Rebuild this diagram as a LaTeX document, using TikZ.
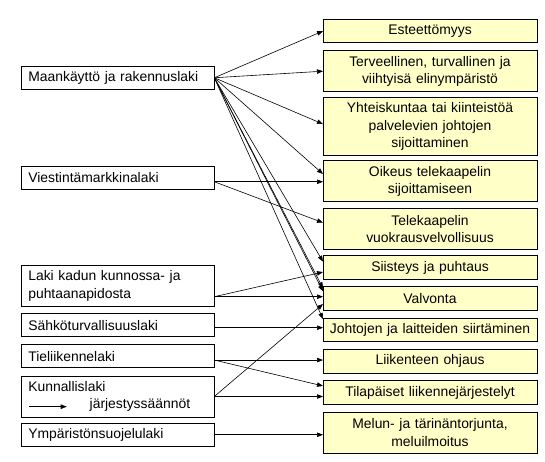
\documentclass[tikz,border=0pt]{standalone}
\usepackage{fontspec}
\setmainfont{Liberation Sans}
\usepackage{tikz}
\usetikzlibrary{positioning, arrows.meta, calc}
\definecolor{topicyellow}{RGB}{255,255,200}
\tikzset{
      law box/.style={
		draw=black,
		line width=0.8pt,
		outer sep=0pt,
		text width=179pt,
		inner xsep=7pt,
		align=left,
		minimum height={#1*17.5pt+6pt}, % one line is 23.5pt high
		font=\fontsize{13.9}{17.5}\selectfont,
	  },
	  law box/.default=1,
      topic box/.style={
		draw=black,
		fill=topicyellow,
		line width=0.8pt,
		outer sep=0pt,
		text width=208pt,
		inner xsep=3pt,
		align=center,
		minimum height={#1*17.5pt+6pt},
		font=\fontsize{13.9}{17.5}\selectfont,
	  },
	  topic box/.default=1,
  		link/.style={
    	-{Triangle[length=6pt,width=4.5pt]},
    	line width=0.6pt,
      }
  	}
\begin{document}
\begin{tikzpicture}[x=1pt, y=-1pt]
    \useasboundingbox (0,0) rectangle (545,462);
    % topics on the right
    \node [topic box] (este) at (430,31.05) {Esteettömyys};
    \node [topic box=2, below=7.9pt of este] (terv) {Terveellinen, turvallinen ja\\viihtyisä elinympäristö};
    \node [topic box=3, below=5.6pt of terv] (yht) {Yhteiskuntaa tai kiinteistöä\\palvelevien johtojen\\sijoittaminen};
    \node [topic box=2, below=4.9pt of yht] (oik) {Oikeus telekaapelin\\sijoittamiseen};
    \node [topic box=2, below=6.8pt of oik] (tele) {Telekaapelin\\vuokrausvelvollisuus};
    \node [topic box, below=6.3pt of tele] (sii) {Siisteys ja puhtaus};
    \node [topic box, below=7.2pt of sii] (val) {Valvonta};
    \node [topic box, below=8.3pt of val] (joh) {Johtojen ja laitteiden siirtäminen};
    \node [topic box, below=7.7pt of joh] (lii) {Liikenteen ohjaus};
    \node [topic box, below=7.7pt of lii] (til) {Tilapäiset liikennejärjestelyt};
    \node [topic box=2, below=7.8pt of til] (mel) {Melun- ja tärinäntorjunta,\\meluilmoitus};
    % laws on the left
    \node [law box] (maa) at (117.8,77.75) {Maankäyttö ja rakennuslaki};
    \node [law box, below=76.5pt of maa] (vie) {Viestintämarkkinalaki};
    \node [law box=2, below=75.8pt of vie] (laki) {Laki kadun kunnossa- ja\\puhtaanapidosta};
    \node [law box, below=7pt of laki] (sah) {Sähköturvallisuuslaki};
    \node [law box, below=7.5pt of sah] (tie) {Tieliikennelaki};
    \node [law box=2, below=8.2pt of tie] (kun) {Kunnallislaki\\\hspace*{61.4pt}järjestyssäännöt};
    \node [law box, below=6pt of kun] (ymp) {Ympäristönsuojelulaki};
    \coordinate (kunA) at ($(kun.south west)+(8,-10.3)$);
    \coordinate (kunB) at ($(kun.south west)+(45.4,-10.3)$);
    \draw [link] (kunA) -- (kunB);
    \coordinate (vieout) at ([yshift=-4pt]vie.east);
    \coordinate (lakiout) at ([yshift=-10.9pt]laki.east);
    \coordinate (sahout) at ([yshift=-2.65pt]sah.east);
    \coordinate (tieout) at ([yshift=-4pt]tie.east);
    \draw [link] (maa.east) -- (este.west);
    \draw [link] (maa.east) -- (terv.west);
    \draw [link] (maa.east) -- ([yshift=2.5pt]yht.west);
    \draw [link] (maa.east) -- ([yshift=7.2pt]oik.west);
    \draw [link] (maa.east) -- ([yshift=5.9pt]sii.west);
    \draw [link] (maa.east) -- ([yshift=10pt]val.west);
    \draw [link] (maa.east) -- ([yshift=7pt]val.west);
    \draw [link] (maa.east) -- ([yshift=11pt]joh.west);
    \draw [link] (vieout) -- (vieout -| oik.west);
    \draw [link] (vieout) -- ([yshift=6.3pt]tele.west);
    \draw [link] (lakiout) -- ([yshift=-4.5pt]sii.west);
    \draw [link] (lakiout) -- (lakiout -| val.west);
    \draw [link] (sahout) -- (sahout -| joh.west);
    \draw [link] (tieout) -- (tieout -| lii.west);
    \draw [link] (tieout) -- ([yshift=6.5pt]til.west);
    \draw [link] (kun.east) -- ([yshift=-5.75pt]val.west);
    \draw [link] (kun.east) -- (kun.east -| til.west);
    \draw [link] (ymp.east) -- (ymp.east -| mel.west);
  \end{tikzpicture}
\end{document}
